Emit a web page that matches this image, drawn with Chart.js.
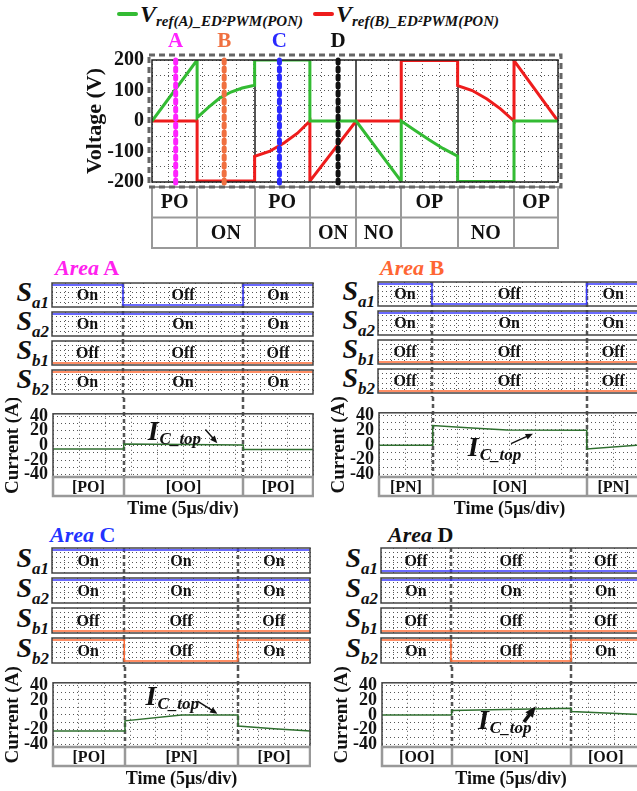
<!DOCTYPE html>
<html>
<head>
<meta charset="utf-8">
<title>ED2PWM(PON) reference voltages and switching areas</title>
<script src="https://cdn.jsdelivr.net/npm/chart.js@4.4.1/dist/chart.umd.min.js"></script>
<style>
  body { margin: 0; background: #fff; }
  #page { position: relative; width: 637px; height: 791px; overflow: hidden; font-family: 'Liberation Serif', 'Times New Roman', serif; color: #111; }
  #page canvas { position: absolute; }
  .leg { position: absolute; top: 1px; white-space: nowrap; font-weight: bold; font-style: italic; line-height: 26px; }
  .leg .sw { display: inline-block; width: 21px; height: 4px; border-radius: 2px; vertical-align: 6px; margin-right: 2px; }
  .leg .v { font-size: 24px; }
  .leg sub { font-size: 15px; }
  .swname { position: absolute; font-weight: bold; font-style: italic; font-size: 28px; line-height: 28px; white-space: nowrap; text-align: right; }
  .swname sub { font-size: 17px; }
  .area { position: absolute; font-weight: bold; font-size: 22px; line-height: 26px; white-space: nowrap; }
</style>
</head>
<body>
<div id="page"></div>
<script>
// ---- top plot: reference voltages over one period (x = angle, deg) ----
const sectorEdges = [0, 40, 91, 140, 181, 221, 271, 321, 360]
const sectorRow1 = ['PO', '', 'PO', '', '', 'OP', '', 'OP']
const sectorRow2 = ['', 'ON', '', 'ON', 'NO', '', 'NO', '']
const vrefA = [[0, 0], [40, 200], [40, 11], [50, 45], [60, 75], [70, 95], [80, 108], [91, 117], [91, 200],
  [140, 200], [140, 0], [181, 0], [221, -198], [221, 0], [233, -30], [246, -62], [258, -90], [271, -115],
  [271, -198], [321, -198], [321, 0], [360, 0]]
const vrefB = [[0, 0], [40, 0], [40, -197], [91, -197], [91, -116], [104, -100], [117, -72], [129, -40], [140, 0],
  [140, -197], [181, 0], [221, 0], [221, 198], [271, 198], [271, 116], [284, 100], [297, 72], [309, 40], [321, 0],
  [321, 198], [360, 0]]
const markerNames = ['A', 'B', 'C', 'D']
const markerAt = [21, 64, 113, 165]
const markerColors = ['#ff22ff', '#f07040', '#2a2aff', '#111111']

// ---- area panels (x = time, us) ----
const switchNames = ['a1', 'a2', 'b1', 'b2']
const edgesA = [0, 13.6, 36.6, 50]
const edgesB = [0, 10.3, 39.8, 50]
const edgesC = [0, 14.0, 36.0, 50]
const edgesD = [0, 13.5, 36.7, 50]
const switchesA = [[1, 0, 1], [1, 1, 1], [0, 0, 0], [1, 1, 1]]
const switchesB = [[1, 0, 1], [1, 1, 1], [0, 0, 0], [0, 0, 0]]
const switchesC = [[1, 1, 1], [1, 1, 1], [0, 0, 0], [1, 0, 1]]
const switchesD = [[0, 0, 0], [1, 1, 1], [0, 0, 0], [1, 0, 1]]
const modesA = ['[PO]', '[OO]', '[PO]']
const modesB = ['[PN]', '[ON]', '[PN]']
const modesC = ['[PO]', '[PN]', '[PO]']
const modesD = ['[OO]', '[ON]', '[OO]']
const currentA = [[0, -5], [13.6, -5], [13.6, 2], [36.6, 0.5], [36.6, -5.5], [50, -5.5]]
const currentB = [[0, -0.5], [10.3, -0.5], [10.3, 26], [17, 23], [24.5, 20], [39.8, 19.5], [39.8, -5.5], [50, 0]]
const currentC = [[0, -21.5], [14, -21.5], [14, -8], [25, 0], [36, 0], [36, -15], [43, -18.5], [50, -21.5]]
const currentD = [[0, 0], [13.5, 0], [13.5, 6], [36.7, 9], [36.7, 4.5], [50, 0.5]]

// layout of each panel on the page
const panels = [
  { name: 'A', color: '#ff22ee', left: 0, boxLeft: 52, boxRight: 313, titleLeft: 55, titleY: 268, rowTop: 283, pitch: 29, boxH: 24, plotTop: 401, plotBottom: 477,
    edges: edgesA, switches: switchesA, modes: modesA, current: currentA, note: { at: [18.2, 8], from: [29.3, 21.5], to: [31.6, 3], w: 1.5 } },
  { name: 'B', color: '#ff6633', left: 326, boxLeft: 378, boxRight: 640, titleLeft: 380, titleY: 268, rowTop: 282, pitch: 29, boxH: 24, plotTop: 400, plotBottom: 477,
    edges: edgesB, switches: switchesB, modes: modesB, current: currentB, note: { at: [17, -15], from: [25.3, 1.7], to: [29.5, 15], w: 1.5 } },
  { name: 'C', color: '#2233ff', left: 0, boxLeft: 52, boxRight: 310, titleLeft: 50, titleY: 535, rowTop: 548, pitch: 30, boxH: 25, plotTop: 670, plotBottom: 747,
    edges: edgesC, switches: switchesC, modes: modesC, current: currentC, note: { at: [18, 12.8], from: [28.1, 18.4], to: [32, 1.5], w: 1.5 } },
  { name: 'D', color: '#111111', left: 329, boxLeft: 381, boxRight: 640, titleLeft: 388, titleY: 535, rowTop: 548, pitch: 30, boxH: 25, plotTop: 670, plotBottom: 747,
    edges: edgesD, switches: switchesD, modes: modesD, current: currentD, note: { at: [18.6, -18.4], from: [27.5, -9.5], to: [29.8, 11.7], w: 3.5 } }
]

const FONT = '"Liberation Serif", "Times New Roman", serif'
const page = document.getElementById('page')
const dotGrid = { color: '#555', lineWidth: 1, drawTicks: false }
const dotBorder = { display: false, dash: [1, 3] }

function addCanvas(left, top, w, h) {
  const c = document.createElement('canvas')
  c.width = w
  c.height = h
  c.style.left = left + 'px'
  c.style.top = top + 'px'
  page.appendChild(c)
  return c
}

function addHtml(cls, css, html) {
  const d = document.createElement('div')
  d.className = cls
  Object.assign(d.style, css)
  d.innerHTML = html
  page.appendChild(d)
  return d
}

function toPoints(pairs) {
  return pairs.map(([x, y]) => ({ x, y }))
}

function gridTicks(from, to, step) {
  const out = []
  for (let v = from; v <= to + 1e-9; v += step) out.push({ value: Math.round(v * 1000) / 1000 })
  return out
}

function line(ctx, x1, y1, x2, y2) {
  ctx.beginPath()
  ctx.moveTo(x1, y1)
  ctx.lineTo(x2, y2)
  ctx.stroke()
}

// ---- legend ----
addHtml('leg', { left: '117px' }, '<span class="sw" style="background:#33bb33"></span><span class="v">V</span><sub>ref(A)_ED²PWM(PON)</sub>')
addHtml('leg', { left: '313px' }, '<span class="sw" style="background:#ee1c1c"></span><span class="v">V</span><sub>ref(B)_ED²PWM(PON)</sub>')

// ---- top chart ----
const topDeco = {
  id: 'topDeco',
  beforeDatasetsDraw(chart) {
    const { ctx, chartArea: a, scales: { x } } = chart
    ctx.save()
    ctx.strokeStyle = '#555'
    ctx.lineWidth = 2
    sectorEdges.slice(1, -1).forEach((e) => {
      const px = Math.round(x.getPixelForValue(e))
      line(ctx, px, a.top, px, a.bottom)
    })
    ctx.restore()
  },
  afterDatasetsDraw(chart) {
    const { ctx, chartArea: a, scales: { x } } = chart
    ctx.save()
    ctx.strokeStyle = '#222'
    ctx.lineWidth = 1.5
    ctx.strokeRect(a.left, a.top, a.width, a.height)

    // table of switching states under the plot
    const t0 = a.bottom + 5
    const rowH = 30.5
    ctx.strokeStyle = '#999'
    ctx.lineWidth = 2
    ctx.strokeRect(a.left, t0, a.width, rowH * 2)
    line(ctx, a.left, t0 + rowH, a.right, t0 + rowH)
    ctx.font = 'bold 20px ' + FONT
    ctx.fillStyle = '#111'
    ctx.textAlign = 'center'
    ctx.textBaseline = 'middle'
    sectorEdges.slice(0, -1).forEach((e, i) => {
      const x1 = x.getPixelForValue(e)
      const x2 = x.getPixelForValue(sectorEdges[i + 1])
      if (i > 0) line(ctx, Math.round(x1), t0, Math.round(x1), t0 + rowH * 2)
      ctx.fillText(sectorRow1[i], (x1 + x2) / 2, t0 + rowH / 2 + 1)
      ctx.fillText(sectorRow2[i], (x1 + x2) / 2, t0 + rowH * 1.5 + 1)
    })

    // dashed frame
    ctx.setLineDash([6, 4])
    ctx.strokeStyle = '#666'
    ctx.lineWidth = 3
    ctx.strokeRect(a.left - 3, a.top - 5, a.width + 6, a.height + 10)

    // area markers
    markerAt.forEach((m, i) => {
      const px = x.getPixelForValue(m)
      ctx.strokeStyle = markerColors[i]
      ctx.lineWidth = 5
      ctx.lineCap = 'round'
      ctx.setLineDash([3, 5])
      line(ctx, px, a.top, px, a.bottom + 2)
      ctx.fillStyle = markerColors[i]
      ctx.font = 'bold 21px ' + FONT
      ctx.fillText(markerNames[i], px, a.top - 18)
    })
    ctx.restore()
  }
}

new Chart(addCanvas(0, 0, 637, 252), {
  type: 'line',
  data: {
    datasets: [
      { label: 'Vref(A)_ED2PWM(PON)', data: toPoints(vrefA), borderColor: '#33bb33', borderWidth: 3, pointRadius: 0, tension: 0 },
      { label: 'Vref(B)_ED2PWM(PON)', data: toPoints(vrefB), borderColor: '#ee1c1c', borderWidth: 3, pointRadius: 0, tension: 0 }
    ]
  },
  options: {
    responsive: false,
    animation: false,
    events: [],
    layout: { padding: { left: 78, right: 79, top: 60, bottom: 0 } },
    plugins: { legend: { display: false }, tooltip: { enabled: false } },
    scales: {
      x: {
        type: 'linear', min: 0, max: 360,
        ticks: { display: false, autoSkip: false },
        grid: dotGrid, border: dotBorder,
        afterBuildTicks: (s) => { s.ticks = gridTicks(0, 360, 15) },
        afterFit: (s) => { s.height = 70 }
      },
      y: {
        min: -200, max: 200,
        ticks: { autoSkip: false, padding: 8, color: '#111', font: { family: FONT, size: 20, weight: 'bold' }, callback: (v) => (v % 100 === 0 ? v : '') },
        grid: dotGrid, border: dotBorder,
        title: { display: true, text: 'Voltage (V)', color: '#111', font: { family: FONT, size: 22, weight: 'bold' }, padding: { top: 4, bottom: 0 } },
        afterBuildTicks: (s) => { s.ticks = gridTicks(-200, 200, 50) },
        afterFit: (s) => { s.width = 74 }
      }
    }
  },
  plugins: [topDeco]
})

// ---- area panels ----
function drawDividers(chart, edges, y0, y1) {
  const { ctx, scales: { x } } = chart
  ctx.save()
  ctx.strokeStyle = '#555'
  ctx.lineWidth = 2.5
  ctx.setLineDash([4, 3])
  edges.slice(1, -1).forEach((e) => {
    const px = Math.round(x.getPixelForValue(e))
    line(ctx, px, y0, px, y1)
  })
  ctx.restore()
}

function switchRow(p, i) {
  const levels = p.switches[i]
  const top = p.rowTop + i * p.pitch - 1
  addHtml('swname', { right: (637 - (p.boxLeft - 3)) + 'px', top: (top + 1 + p.boxH / 2 - 17) + 'px' }, 'S<sub>' + switchNames[i] + '</sub>')
  const pts = []
  levels.forEach((s, k) => { pts.push({ x: p.edges[k], y: s }, { x: p.edges[k + 1], y: s }) })
  new Chart(addCanvas(p.boxLeft - 1, top, p.boxRight - p.boxLeft + 2, p.pitch), {
    type: 'line',
    data: { datasets: [{ label: 'S' + switchNames[i], data: pts, borderColor: i < 2 ? '#3a3aff' : '#ff6a33', borderWidth: 1.5, pointRadius: 0 }] },
    options: {
      responsive: false,
      animation: false,
      events: [],
      layout: { padding: { left: 1, right: 1, top: 1, bottom: p.pitch - p.boxH - 1 } },
      plugins: { legend: { display: false }, tooltip: { enabled: false } },
      scales: {
        x: {
          type: 'linear', min: 0, max: 50,
          ticks: { display: false, autoSkip: false }, grid: dotGrid, border: dotBorder,
          afterBuildTicks: (s) => { s.ticks = gridTicks(0, 50, 2.5) },
          afterFit: (s) => { s.height = 0 }
        },
        y: {
          min: -0.1, max: 1.1,
          ticks: { display: false, autoSkip: false }, grid: dotGrid, border: dotBorder,
          afterBuildTicks: (s) => { s.ticks = gridTicks(0.15, 0.9, 0.25) },
          afterFit: (s) => { s.width = 0 }
        }
      }
    },
    plugins: [{
      id: 'rowDeco',
      beforeDatasetsDraw(chart) {
        drawDividers(chart, p.edges, i === 0 ? chart.chartArea.top : 0, chart.height)
      },
      afterDatasetsDraw(chart) {
        const { ctx, chartArea: a, scales: { x } } = chart
        ctx.save()
        ctx.strokeStyle = '#444'
        ctx.lineWidth = 1.5
        ctx.strokeRect(a.left, a.top, a.width, a.height)
        ctx.font = 'bold 16px ' + FONT
        ctx.fillStyle = '#111'
        ctx.textAlign = 'center'
        ctx.textBaseline = 'middle'
        levels.forEach((s, k) => {
          const cx = (x.getPixelForValue(p.edges[k]) + x.getPixelForValue(p.edges[k + 1])) / 2
          ctx.fillText(s ? 'On' : 'Off', cx, (a.top + a.bottom) / 2 + 1)
        })
        ctx.restore()
      }
    }]
  })
}

function currentChart(p) {
  const top = p.plotTop - 3
  const scaleH = 43
  new Chart(addCanvas(p.left, top, p.boxRight - p.left + 1, 3 + (p.plotBottom - p.plotTop) + scaleH), {
    type: 'line',
    data: { datasets: [{ label: 'IC_top', data: toPoints(p.current), borderColor: '#2f6f2f', borderWidth: 1.5, pointRadius: 0, tension: 0 }] },
    options: {
      responsive: false,
      animation: false,
      events: [],
      layout: { padding: { left: 0, right: 1, top: 3, bottom: 0 } },
      plugins: { legend: { display: false }, tooltip: { enabled: false } },
      scales: {
        x: {
          type: 'linear', min: 0, max: 50,
          ticks: { display: false, autoSkip: false }, grid: dotGrid, border: dotBorder,
          title: { display: true, text: 'Time (5µs/div)', color: '#111', font: { family: FONT, size: 18, weight: 'bold' }, padding: 0 },
          afterBuildTicks: (s) => { s.ticks = gridTicks(0, 50, 5) },
          afterFit: (s) => { s.height = scaleH }
        },
        y: {
          min: -43, max: 43,
          ticks: { autoSkip: false, padding: 5, color: '#111', font: { family: FONT, size: 18, weight: 'bold' }, callback: (v) => (v % 20 === 0 ? v : '') },
          grid: dotGrid, border: dotBorder,
          title: { display: true, text: 'Current (A)', color: '#111', font: { family: FONT, size: 19, weight: 'bold' }, padding: { top: 2, bottom: 0 } },
          afterBuildTicks: (s) => { s.ticks = gridTicks(-40, 40, 10) },
          afterFit: (s) => { s.width = p.boxLeft - p.left + 1 }
        }
      }
    },
    plugins: [{
      id: 'currentDeco',
      beforeDatasetsDraw(chart) {
        drawDividers(chart, p.edges, 0, chart.chartArea.bottom)
      },
      afterDatasetsDraw(chart) {
        const { ctx, chartArea: a, scales: { x, y } } = chart
        ctx.save()
        ctx.strokeStyle = '#444'
        ctx.lineWidth = 1.5
        ctx.strokeRect(a.left, a.top, a.width, a.height)

        // mode table
        const tH = 19
        ctx.strokeStyle = '#999'
        ctx.lineWidth = 2.5
        ctx.strokeRect(a.left, a.bottom, a.width, tH)
        ctx.font = 'bold 16px ' + FONT
        ctx.fillStyle = '#111'
        ctx.textAlign = 'center'
        ctx.textBaseline = 'middle'
        p.modes.forEach((m, k) => {
          const x1 = x.getPixelForValue(p.edges[k])
          const x2 = x.getPixelForValue(p.edges[k + 1])
          if (k > 0) line(ctx, Math.round(x1), a.bottom, Math.round(x1), a.bottom + tH)
          ctx.fillText(m, (x1 + x2) / 2, a.bottom + tH / 2 + 1)
        })

        // I_C_top label with arrow
        const n = p.note
        const bx = x.getPixelForValue(n.at[0])
        const by = y.getPixelForValue(n.at[1])
        ctx.textAlign = 'left'
        ctx.textBaseline = 'alphabetic'
        ctx.font = 'italic bold 28px ' + FONT
        ctx.fillText('I', bx, by)
        const w = ctx.measureText('I').width
        ctx.font = 'italic bold 17px ' + FONT
        ctx.fillText('C_top', bx + w + 1, by + 4)
        const fx = x.getPixelForValue(n.from[0])
        const fy = y.getPixelForValue(n.from[1])
        const tx = x.getPixelForValue(n.to[0])
        const ty = y.getPixelForValue(n.to[1])
        const ang = Math.atan2(ty - fy, tx - fx)
        const head = n.w > 2 ? 12 : 8
        ctx.strokeStyle = '#111'
        ctx.lineWidth = n.w
        line(ctx, fx, fy, tx - Math.cos(ang) * head * 0.6, ty - Math.sin(ang) * head * 0.6)
        ctx.beginPath()
        ctx.moveTo(tx, ty)
        ctx.lineTo(tx - head * Math.cos(ang - 0.4), ty - head * Math.sin(ang - 0.4))
        ctx.lineTo(tx - head * Math.cos(ang + 0.4), ty - head * Math.sin(ang + 0.4))
        ctx.closePath()
        ctx.fill()
        ctx.restore()
      }
    }]
  })
}

panels.forEach((p) => {
  addHtml('area', { left: p.titleLeft + 'px', top: (p.titleY - 13) + 'px', color: p.color }, '<i>Area</i> ' + p.name)
  p.switches.forEach((s, i) => switchRow(p, i))
  currentChart(p)
})
</script>
</body>
</html>
